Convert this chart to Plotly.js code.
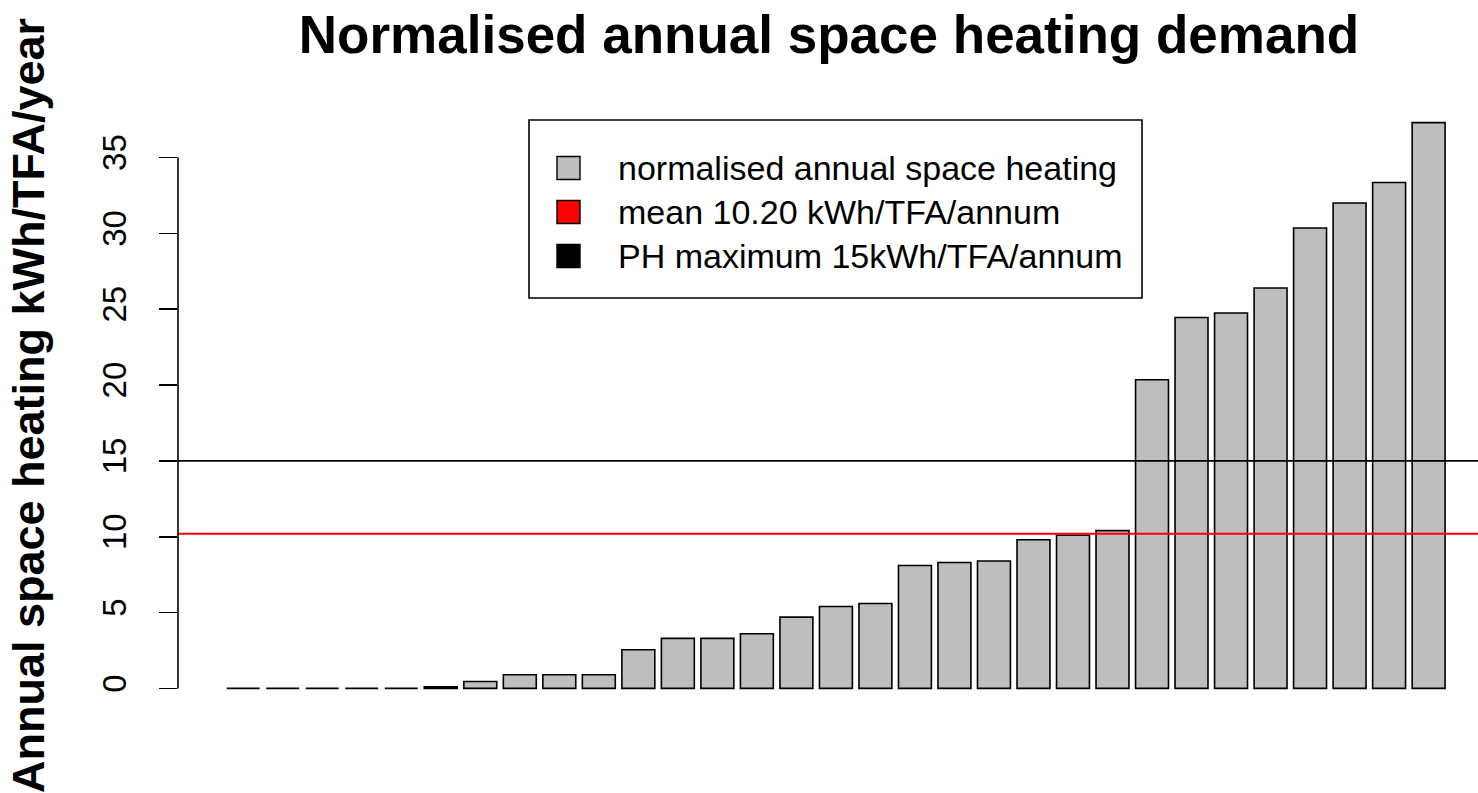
<!DOCTYPE html>
<html>
<head>
<meta charset="utf-8">
<script src="https://cdn.plot.ly/plotly-3.0.1.min.js"></script>
<style>
  html, body { margin: 0; padding: 0; background: #ffffff; }
  #chart { width: 1478px; height: 793px; }
</style>
</head>
<body>
<div id="chart"></div>
<script>
// ---- data ----
const buildings = [1, 2, 3, 4, 5, 6, 7, 8, 9, 10, 11, 12, 13, 14, 15, 16, 17, 18, 19, 20, 21, 22, 23, 24, 25, 26, 27, 28, 29, 30, 31];
const heatingDemand = [0, 0, 0, 0, 0, 0.1, 0.45, 0.9, 0.9, 0.9, 2.55, 3.3, 3.3, 3.6, 4.7, 5.4, 5.6, 8.1, 8.3, 8.4, 9.8, 10.1, 10.4, 20.35, 24.45, 24.75, 26.4, 30.35, 32.0, 33.35, 37.3];
const meanDemand = 10.2;
const phMaximum = 15;
const yTickVals = [0, 5, 10, 15, 20, 25, 30, 35];
const yTickText = ["0", "5", "10", "15", "20", "25", "30", "35"];
const legendLabels = ["normalised annual space heating", "mean 10.20 kWh/TFA/annum", "PH maximum 15kWh/TFA/annum"];
const legendColors = ["#BEBEBE", "#FF0000", "#000000"];
const chartTitle = "Normalised annual space heating demand";
const yTitle = "Annual space heating kWh/TFA/year";

// ---- layout geometry (pixels) ----
const W = 1478, H = 793;
const M = { l: 178, r: 0, t: 100, b: 82 };
const PW = W - M.l - M.r, PH = H - M.t - M.b;
const px2x = p => (p - M.l) / PW;
const py2y = p => (H - M.b - p) / PH;

const FONT = "Liberation Sans, Arial, Helvetica, sans-serif";

const shapes = [
  // mean line
  { type: "line", xref: "paper", yref: "y", x0: 0, x1: 1, y0: meanDemand, y1: meanDemand,
    line: { color: "#FF0000", width: 2 }, layer: "above" },
  // PH maximum line
  { type: "line", xref: "paper", yref: "y", x0: 0, x1: 1, y0: phMaximum, y1: phMaximum,
    line: { color: "#000000", width: 1.6 }, layer: "above" },
  // y axis line (R style, only between first and last tick)
  { type: "line", xref: "paper", yref: "y", x0: 0, x1: 0,
    y0: yTickVals[0], y1: yTickVals[yTickVals.length - 1],
    line: { color: "#000000", width: 1.6 }, layer: "above" },
  // legend box
  { type: "rect", xref: "paper", yref: "paper",
    x0: px2x(529), x1: px2x(1142), y0: py2y(298), y1: py2y(120),
    line: { color: "#000000", width: 1.6 }, fillcolor: "#FFFFFF", layer: "above" }
];

const annotations = [];
const rowY = [168, 212, 256];
const sq = 23;
for (let i = 0; i < legendLabels.length; i++) {
  shapes.push({
    type: "rect", xref: "paper", yref: "paper",
    x0: px2x(557), x1: px2x(557 + sq), y0: py2y(rowY[i] + sq / 2), y1: py2y(rowY[i] - sq / 2),
    line: { color: "#000000", width: 1.4 }, fillcolor: legendColors[i], layer: "above"
  });
  annotations.push({
    xref: "paper", yref: "paper", x: px2x(616), y: py2y(rowY[i]),
    xanchor: "left", yanchor: "middle", showarrow: false,
    text: legendLabels[i], font: { family: FONT, size: 34, color: "#000000" }
  });
}

const trace = {
  type: "bar",
  x: buildings,
  y: heatingDemand,
  marker: { color: "#BEBEBE", line: { color: "#000000", width: 1.6 } },
  hoverinfo: "y",
  showlegend: false
};

const layout = {
  width: W, height: H,
  margin: M,
  paper_bgcolor: "#FFFFFF",
  plot_bgcolor: "#FFFFFF",
  bargap: 0.2 / 1.2,
  showlegend: false,
  title: {
    text: "<b>" + chartTitle + "</b>",
    font: { family: FONT, size: 53, color: "#000000" },
    xref: "container", x: 829 / W, xanchor: "center",
    yref: "container", y: 1 - 34 / H, yanchor: "middle"
  },
  xaxis: {
    range: [-0.65, 32.25],
    visible: false,
    fixedrange: true
  },
  yaxis: {
    range: [-1.49, 38.79],
    tickmode: "array",
    tickvals: yTickVals,
    ticktext: yTickText,
    tickangle: -90,
    ticks: "outside",
    ticklen: 18,
    tickwidth: 1.6,
    tickcolor: "#000000",
    showline: false,
    showgrid: false,
    zeroline: false,
    ticklabelstandoff: 20,
    tickfont: { family: FONT, size: 33, color: "#000000" },
    title: {
      text: "<b>" + yTitle + "</b>",
      font: { family: FONT, size: 45, color: "#000000" },
      standoff: 37
    },
    automargin: false,
    fixedrange: true
  },
  shapes: shapes,
  annotations: annotations
};

Plotly.newPlot("chart", [trace], layout, { displayModeBar: false, staticPlot: true });
</script>
</body>
</html>
